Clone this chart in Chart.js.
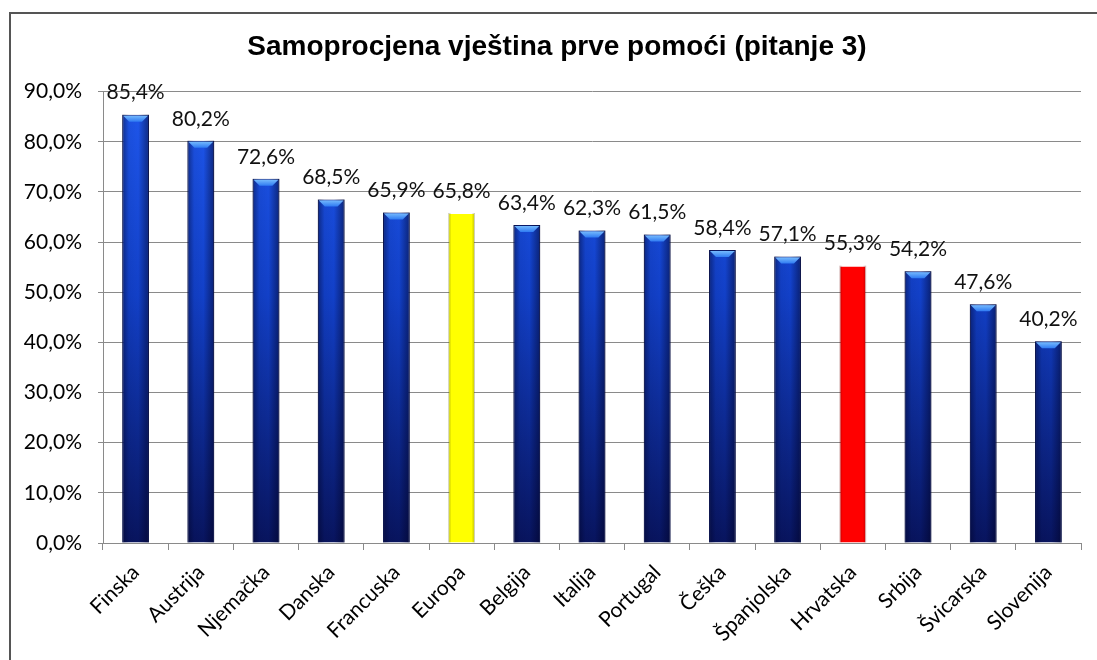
<!DOCTYPE html>
<html>
<head>
<meta charset="utf-8">
<script src="https://cdn.jsdelivr.net/npm/chart.js@4.4.0/dist/chart.umd.min.js"></script>
<style>
    html, body { margin: 0; padding: 0; background: #fff; }
    #wrap { position: relative; width: 1097px; height: 660px; overflow: hidden; }
    #frame {
        position: absolute; left: 9px; top: 12px; width: 1200px; height: 800px;
        border-left: 2px solid #555; border-top: 2px solid #555;
    }
    #chart { position: absolute; left: 0; top: 0; }
</style>
</head>
<body>
<div id="wrap">
    <div id="frame"></div>
    <canvas id="chart" width="1097" height="660"></canvas>
</div>
<script>
    "use strict";

    var countries = ['Finska', 'Austrija', 'Njemačka', 'Danska', 'Francuska', 'Europa', 'Belgija',
        'Italija', 'Portugal', 'Češka', 'Španjolska', 'Hrvatska', 'Srbija', 'Švicarska', 'Slovenija'];
    var percentages = [85.4, 80.2, 72.6, 68.5, 65.9, 65.8, 63.4, 62.3, 61.5, 58.4, 57.1, 55.3, 54.2, 47.6, 40.2];
    var yTicks = [0, 10, 20, 30, 40, 50, 60, 70, 80, 90];

    // Europa i Hrvatska su istaknute posebnom bojom
    var highlight = { 'Europa': 'yellow', 'Hrvatska': 'red' };

    var labelFont = 'Lato, "Open Sans", sans-serif';

    function fmt(v, decimals) {
        return v.toFixed(decimals).replace('.', ',') + '%';
    }

    function barFill(ctx) {
        var chart = ctx.chart;
        var area = chart.chartArea;
        var kind = highlight[countries[ctx.dataIndex]];
        if (kind === 'yellow') return '#ffff00';
        if (kind === 'red') return '#ff0000';
        if (!area) return '#1238b8';
        var g = chart.ctx.createLinearGradient(0, area.top, 0, area.bottom);
        g.addColorStop(0, '#1f58ee');
        g.addColorStop(0.45, '#1240c8');
        g.addColorStop(1, '#08145e');
        return g;
    }

    // sjenčanje stupaca (valjak) i svijetli rub na vrhu
    var cylinderShade = {
        id: 'cylinderShade',
        afterDatasetsDraw: function(chart) {
            var c = chart.ctx;
            var meta = chart.getDatasetMeta(0);
            meta.data.forEach(function(bar, i) {
                var kind = highlight[countries[i]];
                var left = bar.x - bar.width / 2;
                var right = bar.x + bar.width / 2;
                var g = c.createLinearGradient(left, 0, right, 0);
                if (kind) {
                    var edge = kind === 'yellow' ? 'rgba(110,110,0,0.35)' : 'rgba(110,0,0,0.3)';
                    g.addColorStop(0, edge);
                    g.addColorStop(0.12, 'rgba(0,0,0,0)');
                    g.addColorStop(0.88, 'rgba(0,0,0,0)');
                    g.addColorStop(1, edge);
                } else {
                    g.addColorStop(0, 'rgba(0,0,30,0.45)');
                    g.addColorStop(0.25, 'rgba(0,0,30,0.05)');
                    g.addColorStop(0.6, 'rgba(0,0,30,0.0)');
                    g.addColorStop(1, 'rgba(0,0,30,0.5)');
                }
                c.save();
                c.fillStyle = g;
                c.fillRect(left, bar.y, bar.width, bar.base - bar.y);
                if (!kind) {
                    // svijetli trapez na vrhu stupca
                    var tg = c.createLinearGradient(0, bar.y, 0, bar.y + 7);
                    tg.addColorStop(0, '#80c4ff');
                    tg.addColorStop(1, '#2f7af2');
                    c.fillStyle = tg;
                    c.beginPath();
                    c.moveTo(left + 1, bar.y + 1);
                    c.lineTo(right - 1, bar.y + 1);
                    c.lineTo(right - 7, bar.y + 7);
                    c.lineTo(left + 7, bar.y + 7);
                    c.closePath();
                    c.fill();
                }
                c.restore();
            });
        }
    };

    // vrijednosti iznad stupaca
    var valueLabels = {
        id: 'valueLabels',
        afterDatasetsDraw: function(chart) {
            var c = chart.ctx;
            var meta = chart.getDatasetMeta(0);
            c.save();
            c.font = '21px ' + labelFont;
            c.fillStyle = '#111';
            c.textAlign = 'center';
            c.textBaseline = 'middle';
            meta.data.forEach(function(bar, i) {
                c.fillText(fmt(percentages[i], 1), bar.x, bar.y - 22);
            });
            c.restore();
        }
    };

    var ctx = document.getElementById('chart').getContext('2d');
    new Chart(ctx, {
        type: 'bar',
        data: {
            labels: countries,
            datasets: [{
                data: percentages,
                backgroundColor: barFill,
                borderColor: function(c) {
                    return highlight[countries[c.dataIndex]] ? 'rgba(0,0,0,0)' : '#0a1a6a';
                },
                borderWidth: 1,
                borderSkipped: 'bottom',
                categoryPercentage: 1.0,
                barPercentage: 0.41
            }]
        },
        options: {
            responsive: false,
            animation: false,
            devicePixelRatio: 1,
            layout: { padding: { left: 20, right: 3, top: 30, bottom: 14 } },
            plugins: {
                legend: { display: false },
                tooltip: { enabled: false },
                title: {
                    display: true,
                    text: 'Samoprocjena vještina prve pomoći (pitanje 3)',
                    color: '#000',
                    font: { family: '"Liberation Sans", Arial, sans-serif', size: 28, weight: 'bold' },
                    padding: { top: 0, bottom: 28 }
                }
            },
            scales: {
                x: {
                    grid: {
                        offset: true,
                        drawOnChartArea: false,
                        drawTicks: true,
                        tickLength: 7,
                        color: '#8a8a8a'
                    },
                    border: { color: '#8a8a8a' },
                    ticks: {
                        color: '#000',
                        font: { family: labelFont, size: 21 },
                        minRotation: 45,
                        maxRotation: 45,
                        autoSkip: false,
                        padding: 10
                    },
                    afterFit: function(scale) { scale.height = 103; }
                },
                y: {
                    min: 0,
                    max: 90,
                    afterBuildTicks: function(scale) {
                        scale.ticks = yTicks.map(function(v) { return { value: v }; });
                    },
                    grid: { color: '#8a8a8a', tickLength: 5 },
                    border: { color: '#8a8a8a' },
                    ticks: {
                        color: '#000',
                        font: { family: labelFont, size: 21 },
                        padding: 16,
                        callback: function(v) { return fmt(v, 1); }
                    },
                    afterFit: function(scale) { scale.width = 83; }
                },
                // prazan desni prostor iza zadnjeg stupca
                yRight: {
                    position: 'right',
                    grid: { display: false },
                    border: { display: false },
                    ticks: { display: false },
                    afterFit: function(scale) { scale.width = 13; }
                }
            }
        },
        plugins: [cylinderShade, valueLabels]
    });
</script>
</body>
</html>
